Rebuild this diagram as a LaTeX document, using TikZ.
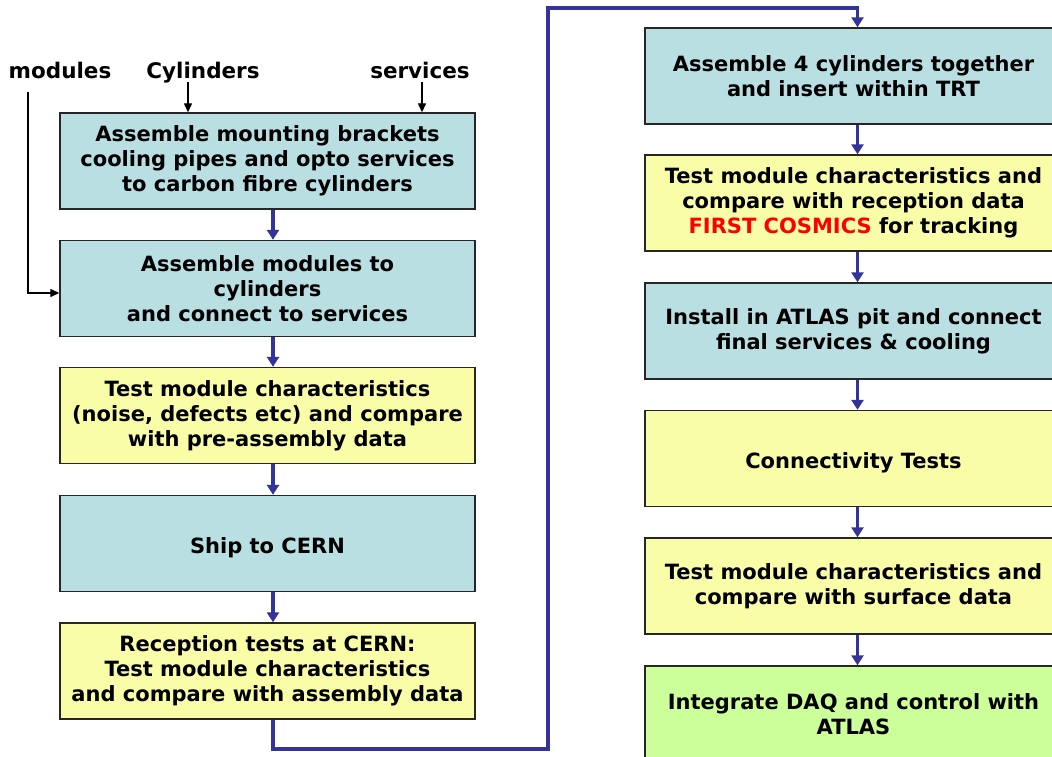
\documentclass[tikz,border=0pt]{standalone}
\usepackage{fontspec}
\setmainfont{DejaVu Sans}
\usetikzlibrary{arrows.meta}
\definecolor{bluebox}{HTML}{B9DFE3}
\definecolor{yelbox}{HTML}{FAFDA8}
\definecolor{grnbox}{HTML}{CCFF99}
\definecolor{flow}{HTML}{333399}
\definecolor{hot}{HTML}{FF0000}
\begin{document}
\begin{tikzpicture}[x=1pt,y=-1pt,
  stepbox/.style={draw=black!85, line width=1.4pt, rectangle, minimum height=96pt,
    align=center, inner sep=2pt, font=\fontsize{21}{25}\selectfont\bfseries,
    execute at begin node={\rule{0pt}{24pt}}},
  leftbox/.style={stepbox, minimum width=415pt},
  rightbox/.style={stepbox, minimum width=417pt},
  flowline/.style={draw=flow, line width=3.4pt, -{Triangle[width=12pt,length=10pt]}},
  inarrow/.style={draw=black, line width=1.3pt, -{Triangle[width=8pt,length=9pt]}},
  inlabel/.style={font=\fontsize{21.5}{24}\selectfont\bfseries, inner sep=0pt, anchor=base}]
\useasboundingbox (0,0) rectangle (1052,757);
\fill[white] (0,0) rectangle (1052,757);
% left column
\node[leftbox, fill=bluebox] (b1) at (267.5,161) {Assemble mounting brackets\\cooling pipes and opto services\\to carbon fibre cylinders};
\node[leftbox, fill=bluebox] (b2) at (267.5,288.5) {Assemble modules to\\cylinders\\and connect to services};
\node[leftbox, fill=yelbox] (b3) at (267.5,415.5) {Test module characteristics\\(noise, defects etc) and compare\\with pre-assembly data};
\node[leftbox, fill=bluebox] (b4) at (267.5,543.5) {Ship to CERN};
\node[leftbox, fill=yelbox] (b5) at (267.5,671) {Reception tests at CERN:\\Test module characteristics\\and compare with assembly data};
% right column
\node[rightbox, fill=bluebox] (r1) at (853.5,76) {Assemble 4 cylinders together\\and insert within TRT};
\node[rightbox, fill=yelbox] (r2) at (853.5,203) {Test module characteristics and\\compare with reception data\\\textcolor{hot}{FIRST COSMICS} for tracking};
\node[rightbox, fill=bluebox] (r3) at (853.5,331) {Install in ATLAS pit and connect\\final services \& cooling};
\node[rightbox, fill=yelbox] (r4) at (853.5,458.5) {Connectivity Tests};
\node[rightbox, fill=yelbox] (r5) at (853.5,586) {Test module characteristics and\\compare with surface data};
\node[rightbox, fill=grnbox] (r6) at (853.5,714) {Integrate DAQ and control with\\ATLAS};
% inputs
\node[inlabel] (lmod) at (60,79) {modules};
\node[inlabel] (lcyl) at (203,79) {Cylinders};
\node[inlabel] (lser) at (420,79) {services};
\coordinate (cylx) at (188,82);
\coordinate (serx) at (422,82);
\coordinate (modtop) at (28,92);
\coordinate (modbend) at (28,293);
\draw[inarrow] (cylx) -- (cylx |- b1.north);
\draw[inarrow] (serx) -- (serx |- b1.north);
\draw[inarrow] (modtop) -- (modbend) -- (modbend -| b2.west);
% flow arrows
\coordinate (lx) at (273,0);
\coordinate (rx) at (857.5,0);
\draw[flowline] (b1.south -| lx) -- (b2.north -| lx);
\draw[flowline] (b2.south -| lx) -- (b3.north -| lx);
\draw[flowline] (b3.south -| lx) -- (b4.north -| lx);
\draw[flowline] (b4.south -| lx) -- (b5.north -| lx);
\coordinate (c1) at (273,749);
\coordinate (c2) at (548,749);
\coordinate (c3) at (548,8);
\coordinate (c4) at (857.5,8);
\draw[flowline] (b5.south -| lx) -- (c1) -- (c2) -- (c3) -- (c4) -- (r1.north -| rx);
\draw[flowline] (r1.south -| rx) -- (r2.north -| rx);
\draw[flowline] (r2.south -| rx) -- (r3.north -| rx);
\draw[flowline] (r3.south -| rx) -- (r4.north -| rx);
\draw[flowline] (r4.south -| rx) -- (r5.north -| rx);
\draw[flowline] (r5.south -| rx) -- (r6.north -| rx);
\end{tikzpicture}
\end{document}
